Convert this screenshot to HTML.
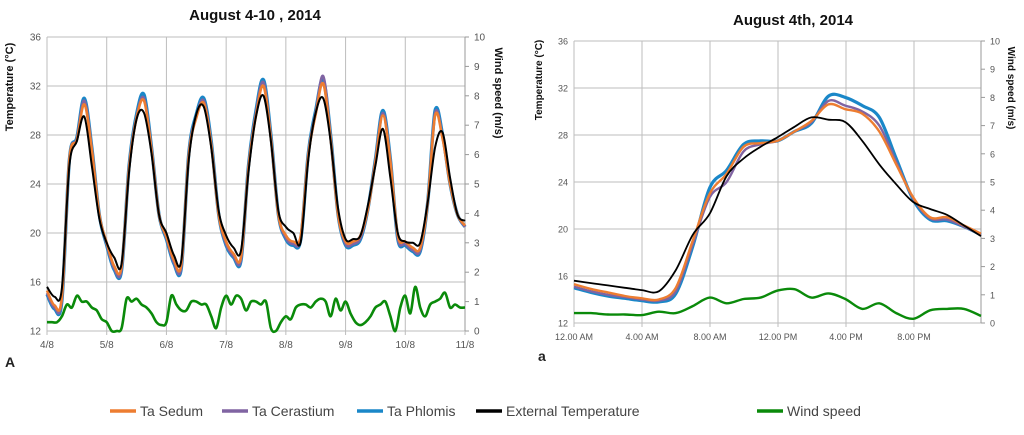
<!DOCTYPE html>
<html><head><meta charset="utf-8"><style>
body{margin:0;background:#fff;width:1024px;height:430px;overflow:hidden;font-family:"Liberation Sans",sans-serif}
</style></head><body>
<svg id="svg" width="1024" height="430" xmlns="http://www.w3.org/2000/svg">
<text x="255" y="20" text-anchor="middle" font-size="15" font-weight="bold" fill="#111">August 4-10 , 2014</text>
<text x="793" y="25" text-anchor="middle" font-size="15" font-weight="bold" fill="#111">August 4th, 2014</text>
<text x="5" y="367" font-size="14" font-weight="bold" fill="#222">A</text>
<text x="538" y="361" font-size="14" font-weight="bold" fill="#222">a</text>
<g id="legend"></g>
</svg>
<script>
// ---- Left chart data (3-hourly, 4/8 00:00 to 11/8 00:00) ----
const leftPhlomis=[15,13.8,14.5,26,27.8,31,27,21.5, 19,17,17,25.5,29.7,31.3,27,21.5, 19.5,17.5,17.2,26.5,29.7,31,27.5,21.5, 19,18,17.8,25.5,30,32.5,28,21.5, 19.5,19,19.5,26.5,30,32.5,28,21.5, 19,19,19.5,22,26,30,26,19.5, 19,18.5,18.5,22.5,30,28,24,21.5, 20.5];
const leftSedum=[15.3,14.1,14.8,26,27.6,30.5,26.8,21.5, 19.2,17.3,17.3,25.3,29.4,30.8,26.8,21.5, 19.7,17.8,17.5,26.3,29.4,30.6,27.2,21.5, 19.3,18.3,18.1,25.3,29.6,32,27.7,21.5, 19.8,19.3,19.8,26.3,29.7,32.2,27.7,21.5, 19.3,19.3,19.8,22,25.8,29.6,25.8,19.8, 19.3,18.8,18.8,22.5,29.6,27.7,24,21.5, 20.6];
const leftCerastium=[15.1,13.9,14.6,26,27.7,30.8,26.9,21.5, 19.1,17.1,17.1,25.4,29.5,31,26.9,21.5, 19.6,17.6,17.3,26.4,29.5,30.8,27.3,21.5, 19.1,18.1,17.9,25.4,29.8,32.3,27.8,21.5, 19.6,19.1,19.6,26.4,29.8,32.8,27.8,21.5, 19.1,19.1,19.6,22,25.9,29.8,25.9,19.6, 19.1,18.6,18.6,22.5,29.8,27.8,24,21.5, 20.5];
const leftExternal=[15.6,14.8,15.5,25.5,27.5,29.5,25.5,21.2, 19.2,18,17.5,25,29.3,29.8,26.5,21.5, 20,18.2,17.8,26,29.7,30.3,27,21.8, 19.8,18.8,18.6,25,29.5,31.2,27.5,21.8, 20.5,20,19.3,26,29.8,31,27.5,22, 19.5,19.5,19.8,22.3,25.5,28.5,24.5,20, 19.3,19.2,19.2,22.5,27,28.2,24.5,21.5, 21];
const leftWind=[0.3,0.3,0.3,0.5,0.9,0.8,1.2,1.0,1.0,0.8,0.7,0.4, 0.3,0.0,0.0,0.1,1.1,1.0,1.1,0.9,0.8,0.6,0.3,0.2, 0.3,1.2,0.9,0.7,0.7,1.0,1.0,0.9,0.9,0.5,0.1,0.8, 1.2,0.9,1.2,1.1,0.7,1.0,1.0,0.9,1.0,0.1,0.0,0.3, 0.5,0.4,0.8,0.9,0.9,0.8,1.0,1.1,1.0,0.5,1.1,0.7, 1.0,0.6,0.3,0.2,0.3,0.5,0.8,0.9,1.0,0.5,0.0,0.8, 1.2,0.6,1.5,0.8,0.5,0.9,1.0,1.1,1.3,0.8,0.9,0.8, 0.8];
const leftXLabels=["4/8","5/8","6/8","7/8","8/8","9/8","10/8","11/8"];
// ---- Right chart data (hourly 0..24) ----
const rightPhlomis=[15,14.6,14.3,14.1,13.9,13.8,14.5,18.5,23.5,25,27.2,27.5,27.5,28.3,29,31.3,31.2,30.5,29.5,26,22.5,20.8,20.7,20.2,19.5];
const rightSedum=[15.3,14.9,14.6,14.3,14.1,14,15,19,23,24.7,27,27.3,27.5,28.3,29.2,30.6,30.2,29.8,28.3,25.5,22.7,21,21,20.3,19.6];
const rightCerastium=[15.1,14.7,14.4,14.2,14,13.9,14.7,18.7,22.7,24,26.6,27.2,27.5,28.3,29.1,30.9,30.5,30,28.8,25.7,22.6,20.9,20.8,20.2,19.5];
const rightExternal=[15.6,15.4,15.2,15,14.8,14.7,16.5,19.5,21.3,24.5,26,27,27.8,28.7,29.5,29.3,29.1,27.5,25.5,23.8,22.3,21.7,21.2,20.3,19.4];
const rightWind=[0.35,0.35,0.3,0.3,0.28,0.4,0.35,0.6,0.9,0.7,0.85,0.9,1.15,1.2,0.9,1.05,0.85,0.5,0.7,0.35,0.15,0.45,0.5,0.5,0.25];
const rightXLabels=["12.00 AM","4.00 AM","8.00 AM","12.00 PM","4.00 PM","8.00 PM"];
const tempTicks=[12,16,20,24,28,32,36];
const windTicks=[0,1,2,3,4,5,6,7,8,9,10];
const legendNames=["Ta Sedum","Ta Cerastium","Ta Phlomis","External Temperature","Wind speed"];

const NS="http://www.w3.org/2000/svg";
const svg=document.getElementById('svg');
function el(tag,attrs,parent){const e=document.createElementNS(NS,tag);for(const k in attrs)e.setAttribute(k,attrs[k]);(parent||svg).appendChild(e);return e;}
function smooth(pts){let d="M"+pts[0][0].toFixed(1)+","+pts[0][1].toFixed(1);
 for(let i=0;i<pts.length-1;i++){const p0=pts[Math.max(0,i-1)],p1=pts[i],p2=pts[i+1],p3=pts[Math.min(pts.length-1,i+2)];
 const c1=[p1[0]+(p2[0]-p0[0])/6,p1[1]+(p2[1]-p0[1])/6],c2=[p2[0]-(p3[0]-p1[0])/6,p2[1]-(p3[1]-p1[1])/6];
 d+="C"+c1[0].toFixed(1)+","+c1[1].toFixed(1)+" "+c2[0].toFixed(1)+","+c2[1].toFixed(1)+" "+p2[0].toFixed(1)+","+p2[1].toFixed(1);}return d;}

function chart(o){
 const g=el('g',{});
 
 
 const yT=v=>o.y1-(v-12)/24*(o.y1-o.y0);
 const yW=v=>o.y1-v/10*(o.y1-o.y0);
 const nx=o.xLabels.length;
 const xStep=(o.xLabelEnd-o.x0)/(nx-1);
 tempTicks.forEach(t=>{const y=yT(t);
  const l=el('line',{x1:o.x0,x2:o.x1,y1:y,y2:y,stroke:'#bdbdbd','stroke-width':1},g);
  
  const tx=el('text',{x:o.x0-6,y:y+3.5,'text-anchor':'end','font-size':o.fs,fill:'#555'},g);tx.textContent=t;
  });
 for(let i=0;i<nx;i++){const x=o.x0+i*xStep;
  const l=el('line',{x1:x,x2:x,y1:o.y0,y2:o.y1+4,stroke:'#bdbdbd','stroke-width':1},g);
  
  const tx=el('text',{x:x,y:o.y1+17,'text-anchor':'middle','font-size':o.fs,fill:'#555'},g);tx.textContent=o.xLabels[i];
  }
 const ax=el('line',{x1:o.x1,x2:o.x1,y1:o.y0,y2:o.y1,stroke:'#999'},g);
 
 windTicks.forEach(t=>{const y=yW(t);
  el('line',{x1:o.x1,x2:o.x1+4,y1:y,y2:y,stroke:'#999'},g);
  const tx=el('text',{x:o.x1+9,y:y+3.5,'font-size':o.fs,fill:'#555'},g);tx.textContent=t;
  });
 const yt=el('text',{transform:`translate(${o.ytx},${o.ytc}) rotate(-90)`,'text-anchor':'middle','font-size':o.fs+1,'font-weight':'bold',fill:'#111'},g);
 yt.textContent='Temperature (°C)';
 
 const wt=el('text',{transform:`translate(${o.wtx},${o.wtc}) rotate(90)`,'text-anchor':'middle','font-size':o.fs+1,'font-weight':'bold',fill:'#111'},g);
 wt.textContent='Wind speed (m/s)';
 
 const xOf=(i,n)=>o.x0+i/(n-1)*(o.xEnd-o.x0);
 const series=[[o.sedum,'#ed7d31',yT,'sedum-line'],[o.cerastium,'#8064a2',yT,'cerastium-line'],[o.phlomis,'#1a87c8',yT,'phlomis-line'],[o.external,'#000',yT,'external-temp-line'],[o.wind,'#0a8a0a',yW,'wind-line']];
 const widths=[o.lw,o.lw,o.lw+0.8,o.lw-0.6,o.lw];
 const order=[2,1,0,3,4];
 order.forEach(k=>{const s=series[k];const pts=s[0].map((v,i)=>[xOf(i,s[0].length),s[2](v)]);
  const p=el('path',{d:smooth(pts),fill:'none',stroke:s[1],'stroke-width':widths[k],'stroke-linejoin':'round'},g);
  });
}
chart({name:'left-chart',x0:47,x1:465,xEnd:465,xLabelEnd:465,y0:37,y1:331,fs:10,lw:2.6,ytx:13,ytc:87,wtx:495,wtc:93,xLabels:leftXLabels,
 phlomis:leftPhlomis,sedum:leftSedum,cerastium:leftCerastium,external:leftExternal,wind:leftWind});
chart({name:'right-chart',x0:574,x1:981,xEnd:981,xLabelEnd:574+20*17,y0:41,y1:323,fs:9,lw:2.4,ytx:542,ytc:80,wtx:1008,wtc:88,xLabels:rightXLabels,
 phlomis:rightPhlomis,sedum:rightSedum,cerastium:rightCerastium,external:rightExternal,wind:rightWind});

const lg=document.getElementById('legend');
const lcolors=['#ed7d31','#8064a2','#1a87c8','#000','#0a8a0a'];
const lx=[110,222,357,476,757];
legendNames.forEach((n,i)=>{
 const l=el('line',{x1:lx[i],x2:lx[i]+26,y1:411,y2:411,stroke:lcolors[i],'stroke-width':3.5},lg);
 
 const t=el('text',{x:lx[i]+30,y:416,'font-size':14,fill:'#444'},lg);t.textContent=n;
 
});
</script>
</body></html>
